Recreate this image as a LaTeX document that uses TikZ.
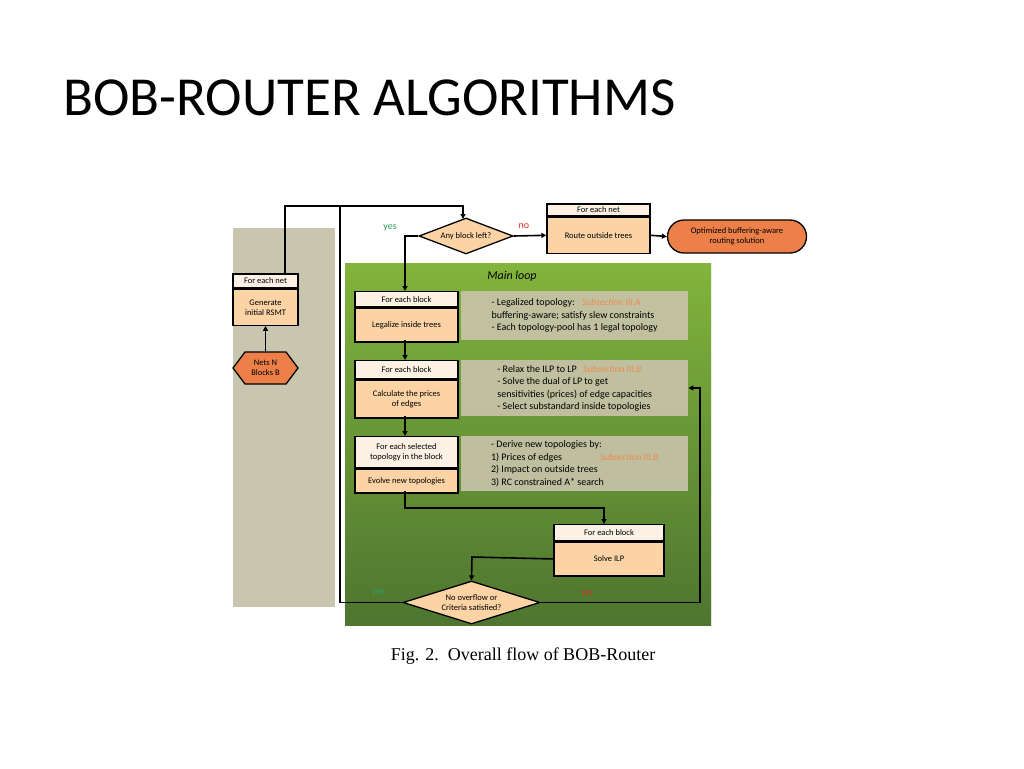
\documentclass[tikz,border=0pt]{standalone}
\usepackage{fontspec}
\setmainfont{Carlito}
\newfontfamily\capfont{Liberation Serif}
\usetikzlibrary{shapes.geometric,shapes.misc,arrows.meta}
\definecolor{hdr}{HTML}{FDF1E6}
\definecolor{bdy}{HTML}{FBD3A5}
\definecolor{org}{HTML}{EC8048}
\definecolor{grp}{HTML}{C8C6AE}
\definecolor{gtop}{HTML}{8EC13F}
\definecolor{gbot}{HTML}{4E7630}
\definecolor{txb}{HTML}{C9C4AC}
\definecolor{subc}{HTML}{EE8A4E}
\definecolor{yesc}{HTML}{2E9E5A}
\definecolor{noc}{HTML}{E0301E}
\tikzset{
 hbox/.style={draw=black,line width=1.3pt,fill=hdr,font=\fontsize{8.5}{10}\selectfont,align=center,inner sep=0pt},
 bbox/.style={draw=black,line width=1.3pt,fill=bdy,font=\fontsize{8.5}{10}\selectfont,align=center,inner sep=0pt},
 dia/.style={diamond,draw=black,line width=1.3pt,fill=bdy,aspect=2.6,inner sep=0pt,font=\fontsize{8.5}{10}\selectfont,align=center},
 tbox/.style={fill=txb,fill opacity=0.9,text opacity=1,anchor=north west,align=left,inner sep=2pt,font=\fontsize{10}{12.5}\selectfont},
 ln/.style={line width=1.6pt,draw=black},
 arr/.style={ln,-{Triangle[length=5pt,width=5pt]}},
}
\begin{document}
\begin{tikzpicture}[x=1pt,y=-1pt]
\useasboundingbox (0,0) rectangle (1024,768);
\fill[white] (0,0) rectangle (1024,768);
\node[anchor=west,font=\fontsize{55}{60}\selectfont] (title) at (60,98) {BOB-ROUTER ALGORITHMS};
% panels
\fill[grp] (233,228) rectangle (335,607);
\shade[left color=gtop,right color=gbot,shading angle=0] (345,263) rectangle (711,625);
\fill[gbot,opacity=0.35] (345,263) -- (711,263) -- (711,625) -- (345,625) -- cycle;
\shade[top color=gtop,bottom color=gbot,opacity=0.5] (345,263) rectangle (711,625);
\node[font=\fontsize{12}{14}\selectfont\itshape] (ml) at (512,276) {Main loop};
% left box
\node[hbox,minimum width=65pt,minimum height=14pt] (n1h) at (265.5,281) {For each net};
\node[bbox,minimum width=65pt,minimum height=36pt,anchor=north] (n1b) at (n1h.south) {Generate\\initial RSMT};
\draw[line width=1.3pt,fill=org] (233,368) -- (245,352) -- (286,352) -- (298,368) -- (286,384) -- (245,384) -- cycle;
\node[font=\fontsize{8.5}{10}\selectfont,align=center] (hext) at (265.5,368) {Nets N\\Blocks B};
\coordinate (hextop) at (265.5,352);
\draw[arr] (hextop) -- (n1b.south);
% top diamond
\node[dia,minimum width=94pt,minimum height=36pt] (d1) at (466,236) {Any block left?};
\coordinate (c1) at (285,206);
\coordinate (c2) at (340,206);
\coordinate (c3) at (463,206);
\coordinate (c4) at (463,219);
\draw[ln] (285,274) -- (c1) -- (c2);
\draw[arr] (c2) -- (c3) -- (c4);
\node[text=yesc,font=\fontsize{10}{12}\selectfont] (yes1) at (390,228) {yes};
\node[text=noc,font=\fontsize{10}{12}\selectfont] (no1) at (524,226) {no};
\node[hbox,minimum width=103pt,minimum height=12pt] (rh) at (598.5,210) {For each net};
\node[bbox,minimum width=103pt,minimum height=36pt,anchor=north] (rb) at (rh.south) {Route outside trees};
\draw[arr] (d1.east) -- (rb.west);
\node[rounded rectangle,draw=black,line width=1.3pt,fill=org,minimum width=139pt,minimum height=33pt,align=center,inner sep=0pt,font=\fontsize{8.5}{10}\selectfont] (out) at (737,236.5) {Optimized buffering-aware\\routing solution};
\draw[arr] (rb.east) -- (out.west);
% blocks
\node[hbox,minimum width=103pt,minimum height=15pt,anchor=north] (b1h) at (406.5,291) {For each block};
\node[bbox,minimum width=103pt,minimum height=34pt,anchor=north] (b1b) at (b1h.south) {Legalize inside trees};
\node[tbox,minimum width=227pt,minimum height=49pt] (t1) at (461,291) {- Legalized topology: {\color{subc}\itshape\fontsize{9.5}{11}\selectfont\ \ Subsection III.A}\\buffering-aware; satisfy slew constraints\\- Each topology-pool has 1 legal topology};
\draw[arr] (d1.west) -- (405,236) -- (405,291);
\node[hbox,minimum width=103pt,minimum height=18pt,anchor=north] (b2h) at (406.5,360) {For each block};
\node[bbox,minimum width=103pt,minimum height=38pt,anchor=north] (b2b) at (b2h.south) {Calculate the prices\\of edges};
\node[tbox,minimum width=227pt,minimum height=56pt] (t2) at (461,360) {- Relax the ILP to LP {\color{subc}\itshape\fontsize{9.5}{11}\selectfont\ \ Subsection III.B}\\- Solve the dual of LP to get\\sensitivities (prices) of edge capacities\\- Select substandard inside topologies};
\draw[arr] (405,340) -- (405,360);
\node[hbox,minimum width=103pt,minimum height=31pt,anchor=north] (b3h) at (406.5,436) {For each selected\\topology in the block};
\node[bbox,minimum width=103pt,minimum height=24pt,anchor=north] (b3b) at (b3h.south) {Evolve new topologies};
\node[tbox,minimum width=227pt,minimum height=55pt] (t3) at (461,436) {- Derive new topologies by:\\1) Prices of edges\hspace{38pt}{\color{subc}\itshape\fontsize{9.5}{11}\selectfont Subsection III.B}\\2) Impact on outside trees\\3) RC constrained A* search};
\draw[arr] (405,416) -- (405,436);
\node[hbox,minimum width=110pt,minimum height=16pt,anchor=north] (b4h) at (609,524) {For each block};
\node[bbox,minimum width=110pt,minimum height=34pt,anchor=north] (b4b) at (b4h.south) {Solve ILP};
\draw[arr] (405,491) -- (405,508) -- (604,508) -- (604,524);
\node[dia,minimum width=137pt,minimum height=43pt] (d2) at (471.5,602.5) {No overflow or\\Criteria satisfied?};
\draw[arr] (b4b.west) -- (472,557) -- (d2.north);
\draw[ln] (d2.west) -- (340,602.5) -- (c2);
\draw[arr] (d2.east) -- (700,602.5) -- (700,388) -- (t2.east |- 0,388);
\node[text=yesc,font=\fontsize{10}{12}\selectfont] (yes2) at (378,593) {yes};
\node[text=noc,font=\fontsize{10}{12}\selectfont] (no2) at (587,593) {no};
\node[font=\capfont\fontsize{18}{20}\selectfont] (cap) at (523,656) {Fig. 2.\ \ Overall flow of BOB-Router};
\end{tikzpicture}
\end{document}
